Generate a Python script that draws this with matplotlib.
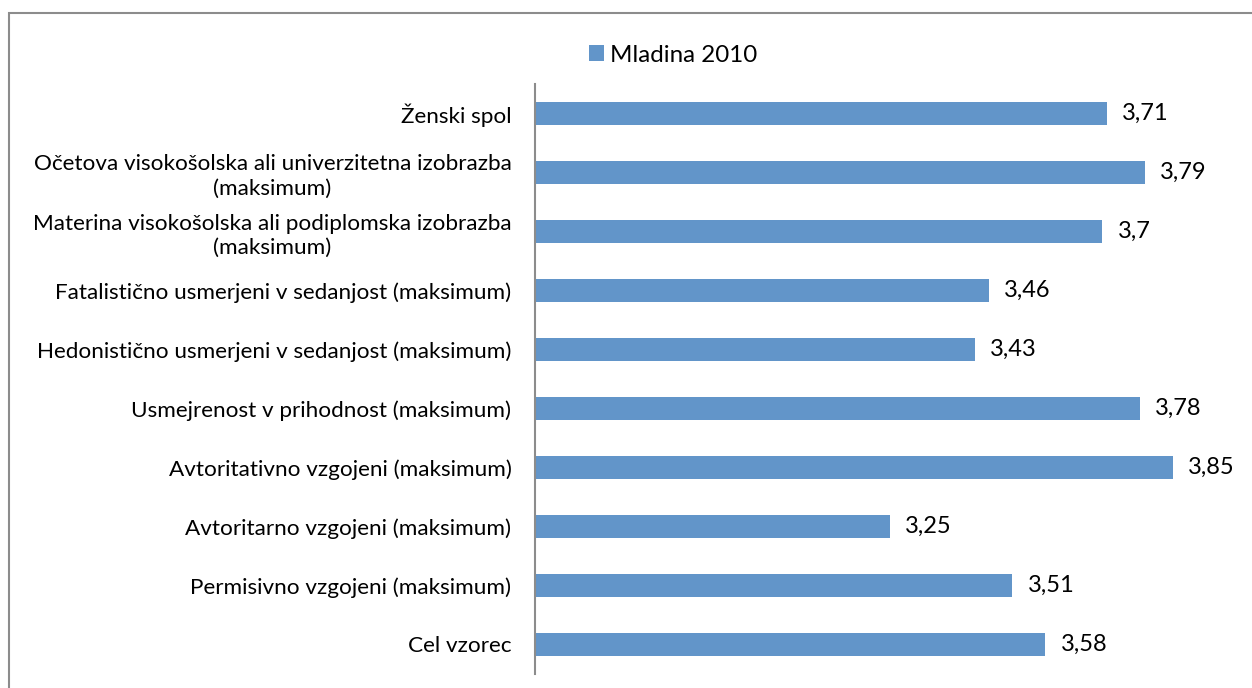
import matplotlib
matplotlib.use("Agg")
import matplotlib.pyplot as plt
from matplotlib.patches import Patch, Rectangle

plt.rcParams["font.family"] = ["Lato", "DejaVu Sans"]

# data, top to bottom as in the chart
categories = [
    "Ženski spol",
    "Očetova visokošolska ali univerzitetna izobrazba\n(maksimum)",
    "Materina visokošolska ali podiplomska izobrazba\n(maksimum)",
    "Fatalistično usmerjeni v sedanjost (maksimum)",
    "Hedonistično usmerjeni v sedanjost (maksimum)",
    "Usmejrenost v prihodnost (maksimum)",
    "Avtoritativno vzgojeni (maksimum)",
    "Avtoritarno vzgojeni (maksimum)",
    "Permisivno vzgojeni (maksimum)",
    "Cel vzorec",
]
values = [3.71, 3.79, 3.7, 3.46, 3.43, 3.78, 3.85, 3.25, 3.51, 3.58]
series_name = "Mladina 2010"

BAR_COLOR = "#6295C9"
GRID_GRAY = "#8c8c8c"

W, H = 1252, 688
fig = plt.figure(figsize=(W / 100, H / 100), dpi=100)
ax = fig.add_axes([535 / W, 1 - 674 / H, (1244 - 535) / W, 590 / H])

ypos = list(range(len(categories)))
ax.barh(ypos, values, height=0.39, color=BAR_COLOR, left=0)
ax.set_xlim(2.5, 4.0)
ax.set_ylim(len(categories) - 0.5, -0.5)

for y, v in zip(ypos, values):
    ax.annotate(f"{v:g}".replace(".", ","), (v, y), xytext=(11, 0),
                textcoords="offset points", va="center", ha="left", fontsize=17)

ax.set_yticks(ypos)
ax.set_yticklabels(categories, fontsize=16.2, linespacing=1.25)
ax.tick_params(axis="y", length=0, pad=17)
ax.set_xticks([])
for side in ["top", "right", "bottom"]:
    ax.spines[side].set_visible(False)
ax.spines["left"].set_color(GRID_GRAY)
ax.spines["left"].set_linewidth(1.5)

# wrapped labels: right aligned block, lines centred
for lbl in ax.get_yticklabels():
    lbl.set_horizontalalignment("right")
    lbl.set_multialignment("center")

handle = Patch(facecolor=BAR_COLOR, edgecolor="none")
fig.legend([handle], [series_name], loc="center", bbox_to_anchor=(673 / W, 1 - 55 / H),
           frameon=False, fontsize=17.4, handlelength=0.62, handleheight=0.62,
           handletextpad=0.25)

# outer chart border (right and bottom edges fall outside the image)
fig.patches.append(Rectangle((9 / W, -0.05), 1.2, 1.05 - 13 / H, transform=fig.transFigure,
                             fill=False, edgecolor=GRID_GRAY, linewidth=1.5))

fig.savefig("out.png", dpi=100)
